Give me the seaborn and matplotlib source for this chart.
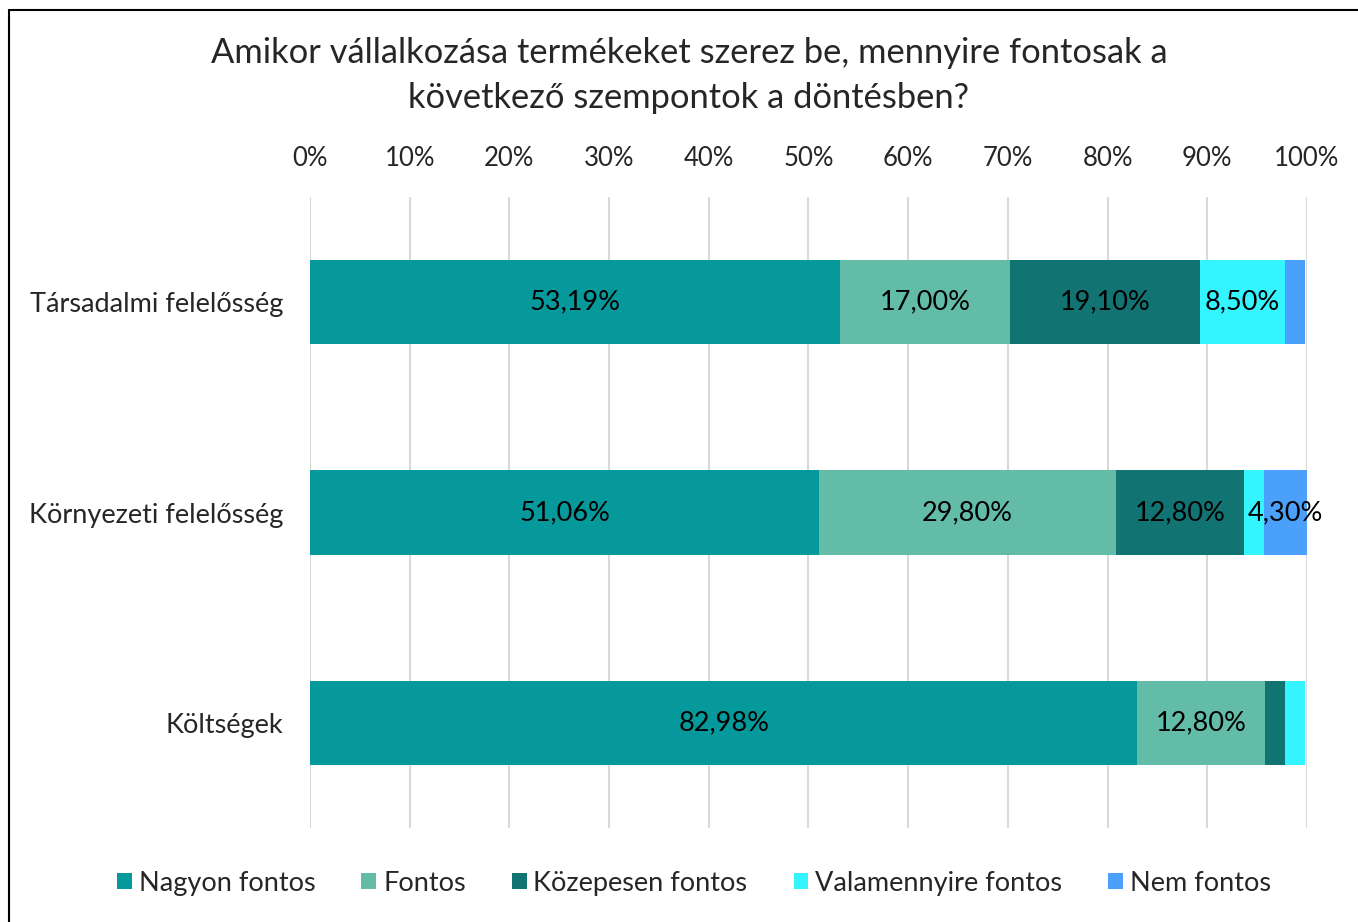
import pandas as pd
import seaborn as sns
import matplotlib.pyplot as plt
from matplotlib.lines import Line2D
from matplotlib.patches import Patch

sns.set_theme(style="white")
plt.rcParams['font.family'] = ['Lato', 'DejaVu Sans']

# data
categories = ['Társadalmi felelősség', 'Környezeti felelősség', 'Költségek']
series = ['Nagyon fontos', 'Fontos', 'Közepesen fontos',
          'Valamennyire fontos', 'Nem fontos']
nagyon_fontos = [53.19, 51.06, 82.98]
fontos = [17.00, 29.80, 12.80]
kozepesen = [19.10, 12.80, 2.00]
valamennyire = [8.50, 2.00, 2.00]
nem_fontos = [2.00, 4.30, 0.00]
colors = ['#05999C', '#62BCA8', '#117473', '#33F4FF', '#4AA0FA']
tick_values = [0, 10, 20, 30, 40, 50, 60, 70, 80, 90, 100]

values = [nagyon_fontos, fontos, kozepesen, valamennyire, nem_fontos]
df = pd.DataFrame(dict(zip(series, values)), index=categories)
cum = df.cumsum(axis=1)

fig = plt.figure(figsize=(13.58, 9.22), dpi=100)
ax = fig.add_axes([310 / 1358, 1 - 828 / 922, 997 / 1358, 631 / 922])

# stacked bars: draw cumulative totals from the last series back to the first
for name, color in reversed(list(zip(series, colors))):
    sns.barplot(x=cum[name].values, y=categories, orient='h', color=color,
                width=0.4, saturation=1, ax=ax, linewidth=0, zorder=3)

# segment labels
for i, cat in enumerate(categories):
    for name in series:
        v = df.loc[cat, name]
        if v < 4:
            continue
        x = cum.loc[cat, name] - v / 2
        ax.text(x, i, f"{v:.2f}%".replace('.', ','), ha='center',
                va='center', fontsize=19.5, color='black', zorder=4)

ax.set_xlim(0, 100)
ax.set_ylim(2.5, -0.5)
ax.set_xticks(tick_values)
ax.set_xticklabels([f"{t}%" for t in tick_values], fontsize=18.5)
ax.xaxis.tick_top()
ax.tick_params(axis='x', length=0, pad=19)
ax.tick_params(axis='y', length=0, pad=19, labelsize=19.5)
ax.grid(axis='x', color='#D9D9D9', linewidth=1.5, zorder=0)
ax.grid(axis='y', visible=False)
for s in ax.spines.values():
    s.set_visible(False)
ax.set_xlabel('')
ax.set_ylabel('')

fig.text(689 / 1358, 1 - 53 / 922,
         'Amikor vállalkozása termékeket szerez be, mennyire fontosak a',
         ha='center', va='center', fontsize=24.8)
fig.text(689 / 1358, 1 - 98 / 922, 'következő szempontok a döntésben?',
         ha='center', va='center', fontsize=24.8)

handles = [Patch(facecolor=c, edgecolor='none') for c in colors]
fig.legend(handles, series, loc='center', bbox_to_anchor=(694 / 1358, 1 - 883 / 922),
           ncol=5, frameon=False, fontsize=19.5, handlelength=0.55,
           handleheight=0.55, handletextpad=0.25, columnspacing=1.7)

# outer frame of the chart area
fig.add_artist(Line2D([9 / 1358, 1], [1 - 10 / 922, 1 - 10 / 922],
                      color='black', linewidth=1.5))
fig.add_artist(Line2D([9 / 1358, 9 / 1358], [0, 1 - 10 / 922],
                      color='black', linewidth=1.5))

fig.savefig('out.png', dpi=100)
